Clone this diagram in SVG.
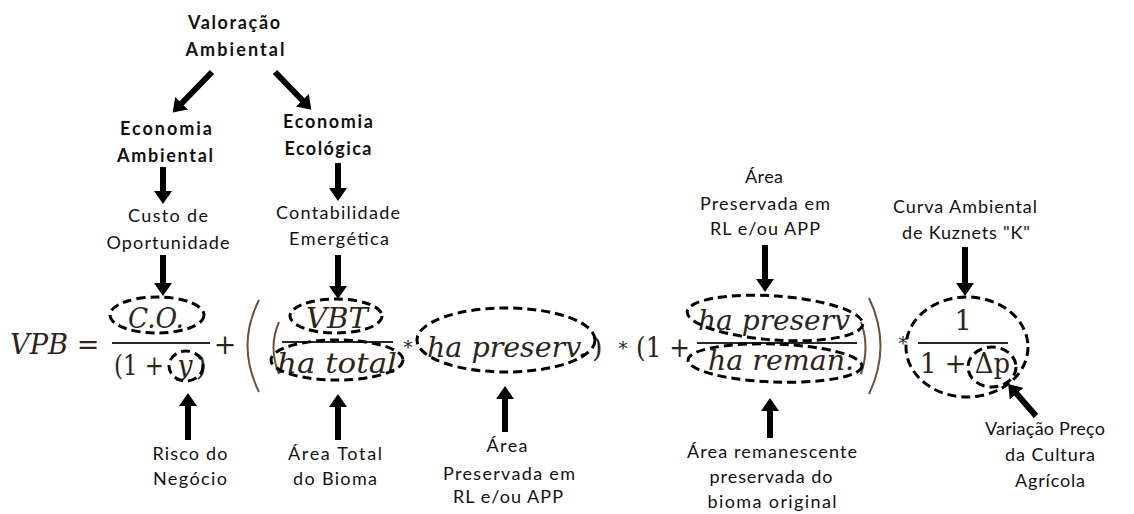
<svg xmlns="http://www.w3.org/2000/svg" width="1134" height="514" viewBox="0 0 1134 514">
<defs>
<style>
.lb{font-family:Lato,"Open Sans","Liberation Sans",sans-serif;font-size:18px;fill:#111;text-anchor:middle}
.bd{font-family:Lato,"Open Sans","Liberation Sans",sans-serif;font-size:18px;font-weight:bold;fill:#111;text-anchor:middle}
.m{font-family:"DejaVu Serif","Liberation Serif",serif;font-size:27px;fill:#2e241a}
.mi{font-style:italic}
.c{text-anchor:middle}
.dash{fill:none;stroke:#000;stroke-width:3;stroke-dasharray:9 5}
.fr{stroke:#2e241a;stroke-width:1.8}
.par{fill:none;stroke:#6b5235;stroke-width:2}
.ar{stroke:#000;stroke-width:6;marker-end:url(#ah)}
</style>
<marker id="ah" markerUnits="userSpaceOnUse" markerWidth="14" markerHeight="18" refX="1" refY="9" orient="auto"><path d="M0,0 L13,9 L0,18 Z" fill="#000"/></marker>
</defs>
<rect width="1134" height="514" fill="#fff"/>

<g id="valoracao">
<text class="bd" x="234" y="29" textLength="92">Valoração</text>
<text class="bd" x="235" y="56" textLength="99">Ambiental</text>
</g>
<g id="economia-ambiental">
<text class="bd" x="166" y="135" textLength="92">Economia</text>
<text class="bd" x="165" y="162" textLength="96">Ambiental</text>
</g>
<g id="economia-ecologica">
<text class="bd" x="328" y="128" textLength="90">Economia</text>
<text class="bd" x="328" y="155" textLength="87">Ecológica</text>
</g>
<g id="custo-oportunidade">
<text class="lb" x="168" y="222" textLength="80">Custo de</text>
<text class="lb" x="168" y="249" textLength="123">Oportunidade</text>
</g>
<g id="contabilidade">
<text class="lb" x="338" y="219" textLength="124">Contabilidade</text>
<text class="lb" x="339" y="245" textLength="100">Emergética</text>
</g>
<g id="area-preservada-top">
<text class="lb" x="764" y="183" textLength="38">Área</text>
<text class="lb" x="765" y="210" textLength="130">Preservada em</text>
<text class="lb" x="765" y="235" textLength="110">RL e/ou APP</text>
</g>
<g id="curva-kuznets">
<text class="lb" x="965" y="213" textLength="144">Curva Ambiental</text>
<text class="lb" x="966" y="239" textLength="128">de Kuznets "K"</text>
</g>
<g id="risco">
<text class="lb" x="190" y="460" textLength="75">Risco do</text>
<text class="lb" x="190" y="485" textLength="74">Negócio</text>
</g>
<g id="area-total">
<text class="lb" x="335" y="460" textLength="94">Área Total</text>
<text class="lb" x="335" y="485" textLength="84">do Bioma</text>
</g>
<g id="area-preservada-bottom">
<text class="lb" x="507" y="452" textLength="41">Área</text>
<text class="lb" x="509" y="480" textLength="132">Preservada em</text>
<text class="lb" x="508" y="503" textLength="110">RL e/ou APP</text>
</g>
<g id="area-remanescente">
<text class="lb" x="772" y="458" textLength="170">Área remanescente</text>
<text class="lb" x="771" y="483" textLength="123">preservada do</text>
<text class="lb" x="772" y="508" textLength="129">bioma original</text>
</g>
<g id="variacao-preco">
<text class="lb" x="1045" y="435" textLength="120">Variação Preço</text>
<text class="lb" x="1050" y="461" textLength="90">da Cultura</text>
<text class="lb" x="1050" y="487" textLength="70">Agrícola</text>
</g>

<g id="formula">
<text class="m mi" x="10" y="354" textLength="58" lengthAdjust="spacingAndGlyphs">VPB</text>
<text class="m c" x="88" y="354">=</text>
<text class="m mi c" x="156" y="328" textLength="56" lengthAdjust="spacingAndGlyphs">C.O.</text>
<line class="fr" x1="112" y1="343" x2="210" y2="343"/>
<text class="m" x="114" y="375" textLength="50" lengthAdjust="spacingAndGlyphs">(1 +</text>
<text class="m mi c" x="185" y="375">y</text>
<text class="m" x="196" y="375">)</text>
<text class="m c" x="225" y="354">+</text>
<path class="par" d="M259,300 Q236,345 259,392"/>
<path class="par" d="M279,322 Q268,347 279,374"/>
<text class="m mi c" x="337" y="328" textLength="62" lengthAdjust="spacingAndGlyphs">VBT</text>
<line class="fr" x1="282" y1="342" x2="393" y2="342"/>
<text class="m mi c" x="337" y="373" textLength="120" lengthAdjust="spacingAndGlyphs">ha total</text>
<text class="m c" x="408" y="354" style="font-size:18px">*</text>
<text class="m mi c" x="507" y="357" textLength="160" lengthAdjust="spacingAndGlyphs">ha preserv.</text>
<text class="m" x="592" y="357">)</text>
<text class="m c" x="623" y="355" style="font-size:18px">*</text>
<text class="m" x="636" y="357" textLength="54" lengthAdjust="spacingAndGlyphs">(1 +</text>
<text class="m mi c" x="774" y="330" textLength="152" lengthAdjust="spacingAndGlyphs">ha preserv</text>
<line class="fr" x1="697" y1="343" x2="857" y2="343"/>
<text class="m mi c" x="781" y="370" textLength="146" lengthAdjust="spacingAndGlyphs">ha reman.</text>
<path class="par" d="M861,322 Q870,347 861,374"/>
<path class="par" d="M869,298 Q892,346 869,394"/>
<text class="m c" x="903" y="350" style="font-size:18px">*</text>
<text class="m c" x="963" y="330">1</text>
<line class="fr" x1="918" y1="343" x2="1008" y2="343"/>
<text class="m" x="920" y="373" textLength="90" lengthAdjust="spacingAndGlyphs">1 + Δp</text>
</g>

<g id="highlights">
<ellipse class="dash" cx="157" cy="315" rx="47" ry="18"/>
<ellipse class="dash" cx="186" cy="366" rx="17" ry="15"/>
<ellipse class="dash" cx="336" cy="316" rx="46" ry="17"/>
<ellipse class="dash" cx="337" cy="360" rx="66" ry="20"/>
<ellipse class="dash" cx="506" cy="340" rx="89" ry="32"/>
<ellipse class="dash" cx="775" cy="318" rx="88" ry="22" transform="rotate(4 775 318)"/>
<ellipse class="dash" cx="775" cy="363" rx="87" ry="19" transform="rotate(2 775 363)"/>
<ellipse class="dash" cx="967" cy="347" rx="61" ry="50"/>
<ellipse class="dash" cx="992" cy="367" rx="24" ry="20"/>
</g>

<g id="connectors">
<line class="ar" x1="212" y1="72" x2="181" y2="104"/>
<line class="ar" x1="275" y1="72" x2="303" y2="101"/>
<line class="ar" x1="163" y1="167" x2="163" y2="192"/>
<line class="ar" x1="338" y1="163" x2="338" y2="189"/>
<line class="ar" x1="163" y1="255" x2="163" y2="284"/>
<line class="ar" x1="338" y1="255" x2="338" y2="287"/>
<line class="ar" x1="765" y1="245" x2="765" y2="280"/>
<line class="ar" x1="965" y1="247" x2="965" y2="284"/>
<line class="ar" x1="188" y1="440" x2="188" y2="405"/>
<line class="ar" x1="338" y1="440" x2="338" y2="406"/>
<line class="ar" x1="505" y1="432" x2="505" y2="398"/>
<line class="ar" x1="770" y1="438" x2="770" y2="410"/>
<line class="ar" x1="1036" y1="416" x2="1016" y2="393"/>
</g>
</svg>
